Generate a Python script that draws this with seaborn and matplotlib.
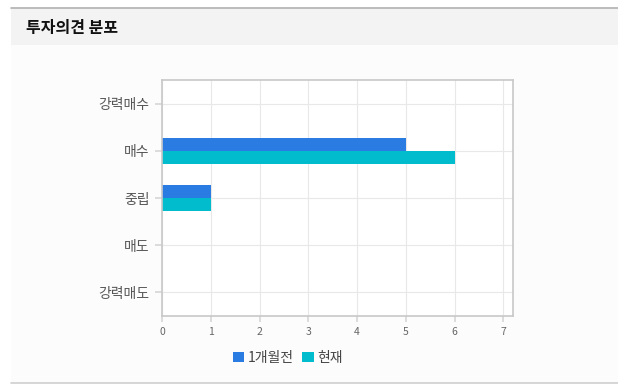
import matplotlib
matplotlib.use("Agg")
import matplotlib.pyplot as plt
import seaborn as sns
import pandas as pd
from matplotlib.patches import Rectangle
from matplotlib.lines import Line2D

categories = ["강력매수", "매수", "중립", "매도", "강력매도"]
series_names = ["1개월전", "현재"]
values_prev = [0, 5, 1, 0, 0]
values_now = [0, 6, 1, 0, 0]
x_ticks = [0, 1, 2, 3, 4, 5, 6, 7]
title = "투자의견 분포"
colors = ["#2a7be2", "#00bccc"]

sns.set_theme(style="white")
plt.rcParams["font.family"] = ["Noto Sans CJK KR", "DejaVu Sans"]

df = pd.DataFrame({
    "cat": categories * 2,
    "val": values_prev + values_now,
    "series": [series_names[0]] * len(categories) + [series_names[1]] * len(categories),
})

W, H = 618, 389
fig = plt.figure(figsize=(W / 100, H / 100), dpi=100)
fig.patch.set_facecolor("white")

def fx(px):
    return px / W

def fy(py):
    return 1 - py / H

# background panel
fig.patches.append(Rectangle((fx(11), fy(383)), fx(618) - fx(11), fy(8) - fy(383),
                             transform=fig.transFigure, facecolor="#fcfcfc", edgecolor="none", zorder=-2))
fig.patches.append(Rectangle((fx(11), fy(45)), fx(618) - fx(11), fy(9) - fy(45),
                             transform=fig.transFigure, facecolor="#f3f3f3", edgecolor="none", zorder=-1))
fig.lines.append(Line2D([fx(11), 1], [fy(8), fy(8)], transform=fig.transFigure, color="#b0b0b0", lw=1.2, zorder=-1))
fig.lines.append(Line2D([fx(11), 1], [fy(383), fy(383)], transform=fig.transFigure, color="#cfcfcf", lw=1.2, zorder=-1))
fig.text(fx(26), fy(28), title, fontsize=11.5, fontweight="bold", color="#111111", va="center", ha="left")

ax = fig.add_axes([fx(162), fy(316), fx(513) - fx(162), fy(80) - fy(316)])
ax.set_zorder(2)
ax.set_facecolor("white")
sns.barplot(data=df, y="cat", x="val", hue="series", order=categories, hue_order=series_names,
            palette=colors, orient="h", width=0.55, ax=ax, edgecolor="none", linewidth=0,
            saturation=1, legend=True)
ax.set_xlim(0, 7.2)
ax.set_ylim(4.5, -0.5)
ax.set_xticks(x_ticks)
ax.set_xticklabels([str(t) for t in x_ticks], fontsize=7.5, color="#666666")
ax.set_yticks(range(len(categories)))
ax.set_yticklabels(categories, fontsize=10, color="#555555")
ax.set_xlabel("")
ax.set_ylabel("")
ax.grid(True, color="#e8e8e8", lw=0.8)
ax.set_axisbelow(True)
for s in ax.spines.values():
    s.set_color("#c8c8c8")
    s.set_linewidth(1.2)
ax.tick_params(axis="y", length=5, color="#d8d8d8", pad=4, left=True)
ax.tick_params(axis="x", length=4, color="#d8d8d8", pad=4, bottom=True)

handles, labels = ax.get_legend_handles_labels()
ax.get_legend().remove()
fig.legend(handles, labels, loc="center", bbox_to_anchor=(fx(288), fy(358)), ncol=2, frameon=False,
           fontsize=10, handlelength=0.8, handleheight=0.8, handletextpad=0.3, columnspacing=0.6,
           labelcolor="#444444")

fig.savefig("out.png", dpi=100, facecolor=fig.get_facecolor())
